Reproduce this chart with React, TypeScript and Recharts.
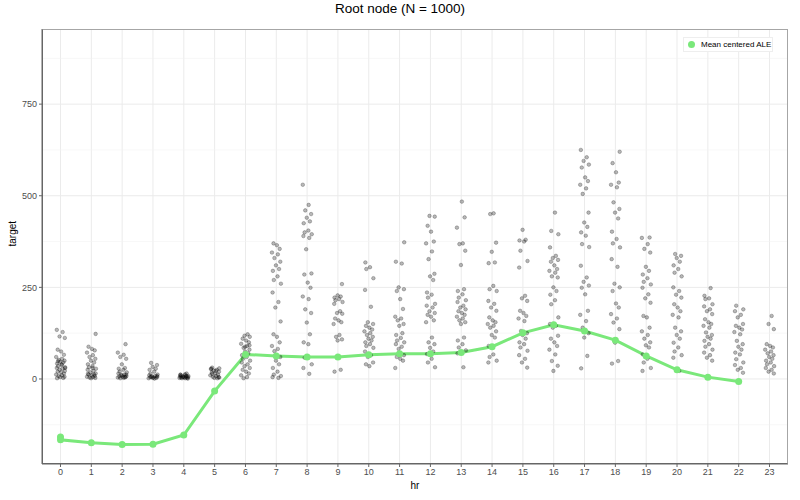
import React from "react";
import {
  ComposedChart,
  Scatter,
  Line,
  XAxis,
  YAxis,
  CartesianGrid,
  ReferenceLine,
} from "recharts";

// 시간대 (hr) 카테고리
const HOURS = [0, 1, 2, 3, 4, 5, 6, 7, 8, 9, 10, 11, 12, 13, 14, 15, 16, 17, 18, 19, 20, 21, 22, 23];

// 시간대별 관측치 (target) – 그림에서 읽은 값
const TARGET_BY_HOUR: number[][] = [
  [134, 128, 116, 112, 80, 75, 66, 60, 55, 52, 50, 47, 45, 42, 38, 35, 32, 30, 28, 25, 22, 20, 18, 15, 12, 10, 8, 6, 5, 3, 2, 40, 48, 30],
  [123, 88, 82, 78, 72, 65, 60, 55, 50, 45, 40, 35, 32, 28, 25, 22, 18, 15, 12, 10, 8, 6, 5, 4, 3, 2, 12, 14, 30],
  [95, 72, 66, 60, 55, 40, 30, 28, 25, 20, 18, 15, 12, 10, 8, 7, 6, 5, 4, 3, 2, 12, 10, 5],
  [44, 38, 33, 28, 25, 20, 15, 12, 10, 8, 7, 6, 5, 4, 3, 2, 1, 6, 8, 3],
  [15, 12, 10, 9, 8, 7, 6, 5, 5, 4, 4, 3, 3, 2, 2, 1, 6, 8, 11, 13],
  [31, 29, 27, 25, 23, 20, 18, 15, 12, 10, 8, 6, 5, 3, 2, 28, 22, 14, 4],
  [122, 118, 115, 110, 105, 100, 96, 90, 85, 80, 75, 70, 65, 60, 55, 50, 45, 40, 35, 30, 25, 20, 15, 10, 5, 2, 92, 88],
  [370, 365, 355, 345, 340, 330, 320, 310, 300, 295, 280, 270, 260, 236, 210, 195, 157, 122, 115, 100, 90, 82, 76, 60, 50, 40, 30, 20, 12, 8, 5, 3],
  [530, 475, 460, 450, 440, 430, 425, 405, 400, 395, 390, 385, 354, 288, 285, 263, 249, 225, 218, 190, 180, 154, 122, 100, 95, 58, 40, 30, 14],
  [259, 228, 225, 222, 218, 215, 210, 205, 185, 180, 178, 165, 160, 155, 150, 120, 115, 108, 105, 25, 20],
  [318, 305, 300, 275, 243, 197, 155, 150, 145, 140, 135, 130, 125, 120, 115, 110, 105, 100, 95, 90, 85, 75, 65, 60, 45, 40, 35],
  [373, 320, 315, 250, 245, 240, 218, 191, 170, 165, 160, 150, 145, 125, 120, 112, 105, 100, 95, 88, 82, 65, 60, 55, 50, 30],
  [445, 443, 418, 402, 375, 370, 348, 327, 287, 280, 270, 236, 230, 222, 205, 200, 195, 185, 180, 175, 170, 160, 155, 113, 100, 95, 85, 75, 68, 55, 45, 32],
  [484, 441, 413, 370, 368, 350, 311, 245, 240, 231, 222, 215, 210, 200, 195, 190, 185, 180, 175, 170, 165, 160, 155, 150, 113, 105, 95, 86, 78, 70, 32],
  [452, 450, 372, 347, 318, 316, 254, 245, 240, 213, 205, 195, 186, 168, 160, 155, 150, 145, 140, 130, 120, 113, 90, 67, 60, 50, 45],
  [407, 380, 378, 375, 350, 322, 304, 227, 220, 213, 186, 180, 172, 165, 158, 131, 125, 120, 110, 100, 95, 86, 77, 65, 55, 45, 31],
  [454, 404, 395, 359, 336, 330, 325, 320, 310, 300, 295, 290, 280, 277, 250, 240, 230, 215, 204, 168, 150, 145, 140, 118, 110, 100, 90, 80, 67, 49, 36, 22],
  [625, 605, 595, 585, 577, 550, 540, 530, 520, 505, 454, 427, 415, 400, 391, 368, 360, 309, 277, 265, 255, 249, 231, 186, 175, 158, 140, 125, 113, 63, 29],
  [620, 589, 564, 536, 530, 523, 482, 464, 454, 438, 402, 382, 370, 359, 327, 306, 260, 250, 240, 206, 195, 177, 165, 154, 136, 99, 49, 42],
  [386, 385, 368, 355, 345, 306, 295, 285, 275, 265, 258, 249, 231, 220, 208, 172, 168, 140, 130, 120, 110, 100, 92, 86, 67, 55, 45, 30, 22],
  [341, 336, 330, 320, 310, 300, 290, 280, 250, 240, 230, 222, 204, 195, 185, 175, 168, 140, 130, 120, 110, 99, 86, 75, 65, 58, 22],
  [248, 227, 220, 218, 204, 198, 190, 185, 177, 163, 155, 150, 145, 140, 127, 120, 115, 110, 104, 95, 88, 80, 72, 65, 58, 50],
  [200, 190, 185, 175, 168, 150, 145, 140, 135, 128, 122, 104, 95, 88, 80, 72, 67, 54, 45, 38, 30, 25, 17],
  [172, 150, 136, 95, 90, 86, 80, 75, 70, 65, 60, 55, 50, 45, 40, 35, 30, 25, 20, 15],
];

// 지터 오프셋 (고정 패턴)
const JITTER = [-0.12, 0.07, -0.03, 0.14, -0.09, 0.02, 0.11, -0.14, 0.05, -0.06, 0.13, -0.01, 0.09, -0.11, 0.04, -0.08, 0.15];

// Mean centered ALE 값
const ALE_HOURS = [0, 0, 1, 2, 3, 4, 5, 6, 7, 8, 9, 10, 11, 12, 13, 14, 15, 16, 17, 18, 19, 20, 21, 22];
const ALE_VALUES = [-158, -166, -174, -179, -178, -153, -33, 67, 63, 60, 60, 66, 69, 69, 72, 88, 126, 148, 131, 106, 63, 25, 5, -7];

const Y_TICKS = [0, 250, 500, 750];
const Y_MINOR = [-125, 125, 375, 625, 875];

const GREEN = "#7ae87a";

const points = TARGET_BY_HOUR.flatMap((vals, h) =>
  vals.map((v, i) => ({ x: HOURS[h] + JITTER[(i + h * 3) % JITTER.length], y: v }))
);
const aleData = ALE_HOURS.map((h, i) => ({ x: h, y: ALE_VALUES[i] }));

function Dot(props: any) {
  return (
    <circle
      cx={props.cx}
      cy={props.cy}
      r={1.8}
      fill="#000"
      fillOpacity={0.28}
      stroke="#000"
      strokeOpacity={0.4}
      strokeWidth={0.6}
    />
  );
}

export default function App() {
  const font = "'Liberation Sans', Arial, sans-serif";
  return (
    <div style={{ position: "absolute", left: 0, top: 0, width: 800, height: 500, background: "#fff", fontFamily: font }}>
      <div style={{ position: "absolute", top: 1, width: 800, textAlign: "center", fontSize: 13.5, color: "#000" }}>
        Root node (N = 1000)
      </div>
      <ComposedChart width={800} height={500} margin={{ top: 29, right: 12, bottom: 12, left: 12 }}>
        <CartesianGrid stroke="#ebebeb" strokeWidth={1} verticalValues={HOURS} horizontalValues={Y_TICKS} />
        {Y_MINOR.map((v) => (
          <ReferenceLine key={v} y={v} stroke="#f2f2f2" strokeWidth={0.6} ifOverflow="hidden" />
        ))}
        <XAxis
          type="number"
          dataKey="x"
          domain={[-0.6, 23.6]}
          ticks={HOURS}
          interval={0}
          allowDataOverflow
          height={24}
          stroke="#666"
          tickSize={3}
          tick={{ fontSize: 9, fill: "#4d4d4d", fontFamily: font }}
          label={{ value: "hr", position: "insideBottom", offset: -1, fontSize: 10, fill: "#000", fontFamily: font }}
        />
        <YAxis
          type="number"
          dataKey="y"
          domain={[-232, 955]}
          ticks={Y_TICKS}
          allowDataOverflow
          width={30}
          stroke="#666"
          tickSize={3}
          tick={{ fontSize: 9, fill: "#4d4d4d", fontFamily: font }}
          label={{ value: "target", angle: -90, position: "insideLeft", offset: 0, fontSize: 10, fill: "#000", fontFamily: font }}
        />
        <Scatter data={points} dataKey="y" shape={<Dot />} isAnimationActive={false} />
        <Line
          data={aleData}
          dataKey="y"
          stroke={GREEN}
          strokeWidth={3}
          dot={{ r: 3.5, fill: GREEN, stroke: GREEN, strokeWidth: 0 }}
          activeDot={false}
          isAnimationActive={false}
        />
      </ComposedChart>
      <div
        style={{
          position: "absolute",
          left: 42,
          top: 29,
          width: 746,
          height: 435,
          border: "1px solid #a6a6a6",
          borderLeftColor: "#666",
          borderBottomColor: "#666",
          boxSizing: "border-box",
          pointerEvents: "none",
        }}
      />
      <div
        style={{
          position: "absolute",
          left: 683,
          top: 37,
          width: 90,
          height: 15,
          background: "#fff",
          border: "1px solid #eee",
          boxSizing: "border-box",
          display: "flex",
          alignItems: "center",
          fontSize: 8,
          color: "#000",
        }}
      >
        <span style={{ display: "inline-block", width: 7, height: 7, borderRadius: 4, background: GREEN, marginLeft: 4, marginRight: 6 }} />
        Mean centered ALE
      </div>
    </div>
  );
}
